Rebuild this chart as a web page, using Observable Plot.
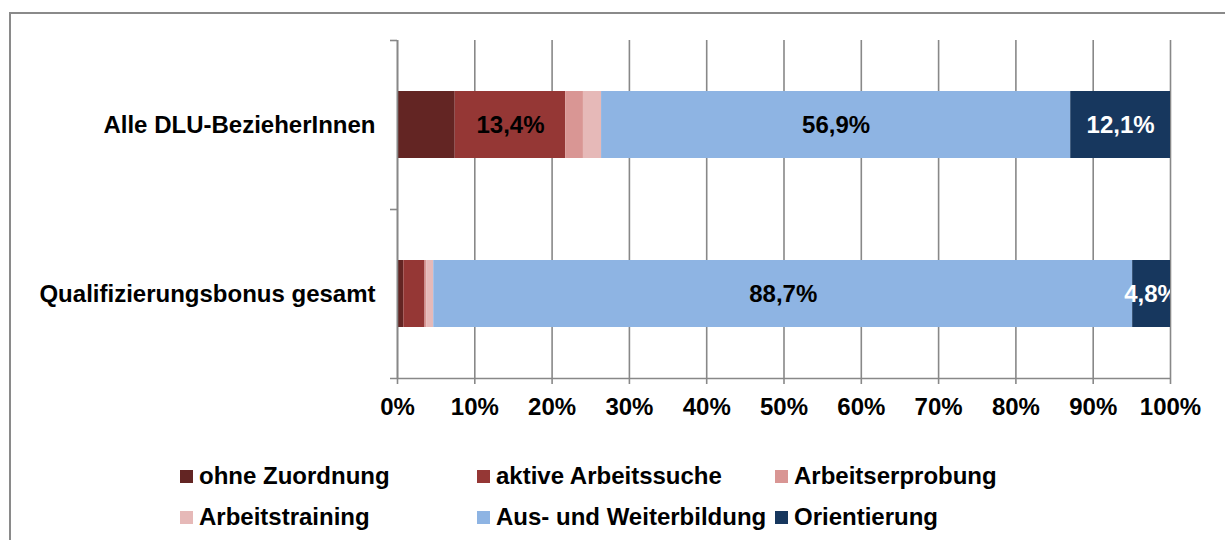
<!DOCTYPE html>
<html>
<head>
<meta charset="utf-8">
<script src="https://cdn.jsdelivr.net/npm/d3@7"></script>
<script src="https://cdn.jsdelivr.net/npm/@observablehq/plot@0.6"></script>
<style>
  html, body { margin: 0; padding: 0; background: white; }
  #wrap { position: relative; width: 1225px; height: 540px; overflow: hidden; font-family: "Liberation Sans", Arial, sans-serif; background: white; }
  #frame { position: absolute; left: 9px; top: 12px; width: 1300px; height: 600px; border-top: 2px solid #8a8a8a; border-left: 2px solid #8a8a8a; box-sizing: border-box; pointer-events: none; z-index: 2; }
  #chart { position: absolute; left: 0; top: 0; z-index: 1; }
  #legend { position: absolute; left: 0; top: 0; z-index: 1; }
  .leg { position: absolute; display: flex; align-items: center; font-weight: bold; font-size: 24px; color: #000; white-space: nowrap; }
  .sw { width: 13px; height: 13px; margin-right: 6px; }
</style>
</head>
<body>
<div id="wrap">
  <div id="chart"></div>
  <div id="legend"></div>
  <div id="frame"></div>
</div>
<script>
const categories = ["Alle DLU-BezieherInnen", "Qualifizierungsbonus gesamt"];
const series = ["ohne Zuordnung", "aktive Arbeitssuche", "Arbeitserprobung", "Arbeitstraining", "Aus- und Weiterbildung", "Orientierung"];
const valuesAlle = [7.0, 13.4, 2.15, 2.2, 56.9, 12.1];
const valuesQuali = [0.8, 2.7, 0.2, 0.9, 88.7, 4.8];
// which data labels are shown in the reference (per category, per series)
const shownAlle = [false, true, false, false, true, true];
const shownQuali = [false, false, false, false, true, true];
const colors = ["#632523", "#953735", "#d99694", "#e6b9b8", "#8eb4e3", "#17375e"];
const labelColors = ["#fff", "#000", "#000", "#000", "#000", "#fff"];
const xTicks = [0, 10, 20, 30, 40, 50, 60, 70, 80, 90, 100];

const allValues = [valuesAlle, valuesQuali];
const allShown = [shownAlle, shownQuali];
const table = categories.flatMap((c, i) => series.map((s, j) => ({
  category: c, series: s, value: allValues[i][j], shown: allShown[i][j], labelColor: labelColors[j]
})));

const W = 1225, H = 428, mL = 397, mR = 55, mT = 40, mB = 50;
const halfStep = (H - mT - mB) / (categories.length * 2);
const tickLen = 7 / (W - mL - mR); // in normalized x units
const fmt = v => v.toFixed(1).replace(".", ",") + "%";
const gray = "#888888";

const labelMark = (color) => Plot.text(table, Plot.stackX({
  offset: "normalize", order: series, x: "value", y: "category", z: "series",
  text: d => (d.shown && d.labelColor === color) ? fmt(d.value) : "",
  fill: color, fontSize: 24, fontWeight: "bold", clip: true
}));

const chart = Plot.plot({
  width: W, height: H,
  marginLeft: mL, marginRight: mR, marginTop: mT, marginBottom: mB,
  style: {fontFamily: "Liberation Sans, Arial, sans-serif", fontWeight: "bold", fontSize: "24px", color: "#000", background: "transparent", overflow: "visible"},
  x: {domain: [0, 1], label: null},
  y: {domain: categories, paddingInner: 0.604, paddingOuter: 0.302, label: null},
  color: {domain: series, range: colors},
  marks: [
    Plot.ruleX(xTicks.map(t => t / 100), {stroke: gray, strokeWidth: 1.6}),
    Plot.barX(table, Plot.stackX({offset: "normalize", order: series, x: "value", y: "category", fill: "series"})),
    labelMark("#000"),
    labelMark("#fff"),
    Plot.ruleX([0], {stroke: gray, strokeWidth: 1.6}),
    Plot.ruleY(categories, {dy: -halfStep, x1: -tickLen, x2: 0, stroke: gray, strokeWidth: 1.6}),
    Plot.ruleY([categories[categories.length - 1]], {dy: halfStep, x1: -tickLen, x2: 1, stroke: gray, strokeWidth: 1.6}),
    Plot.axisX({ticks: xTicks.map(t => t / 100), tickFormat: d => Math.round(d * 100) + "%", tickSize: 6, tickPadding: 13, stroke: gray, strokeWidth: 1.6, fill: "#000", fontSize: 24, fontWeight: "bold", label: null}),
    Plot.axisY({tickSize: 0, tickPadding: 22, fill: "#000", fontSize: 24, fontWeight: "bold", label: null})
  ]
});
document.getElementById("chart").appendChild(chart);

// Legend (HTML, below the SVG)
const legendPos = [[180, 476], [477, 476], [775, 476], [180, 517], [477, 517], [775, 517]];
const legend = document.getElementById("legend");
series.forEach((s, i) => {
  const el = document.createElement("div");
  el.className = "leg";
  el.style.left = legendPos[i][0] + "px";
  el.style.top = (legendPos[i][1] - 14) + "px";
  el.style.height = "28px";
  const sw = document.createElement("span");
  sw.className = "sw";
  sw.style.background = colors[i];
  el.appendChild(sw);
  el.appendChild(document.createTextNode(s));
  legend.appendChild(el);
});
</script>
</body>
</html>
